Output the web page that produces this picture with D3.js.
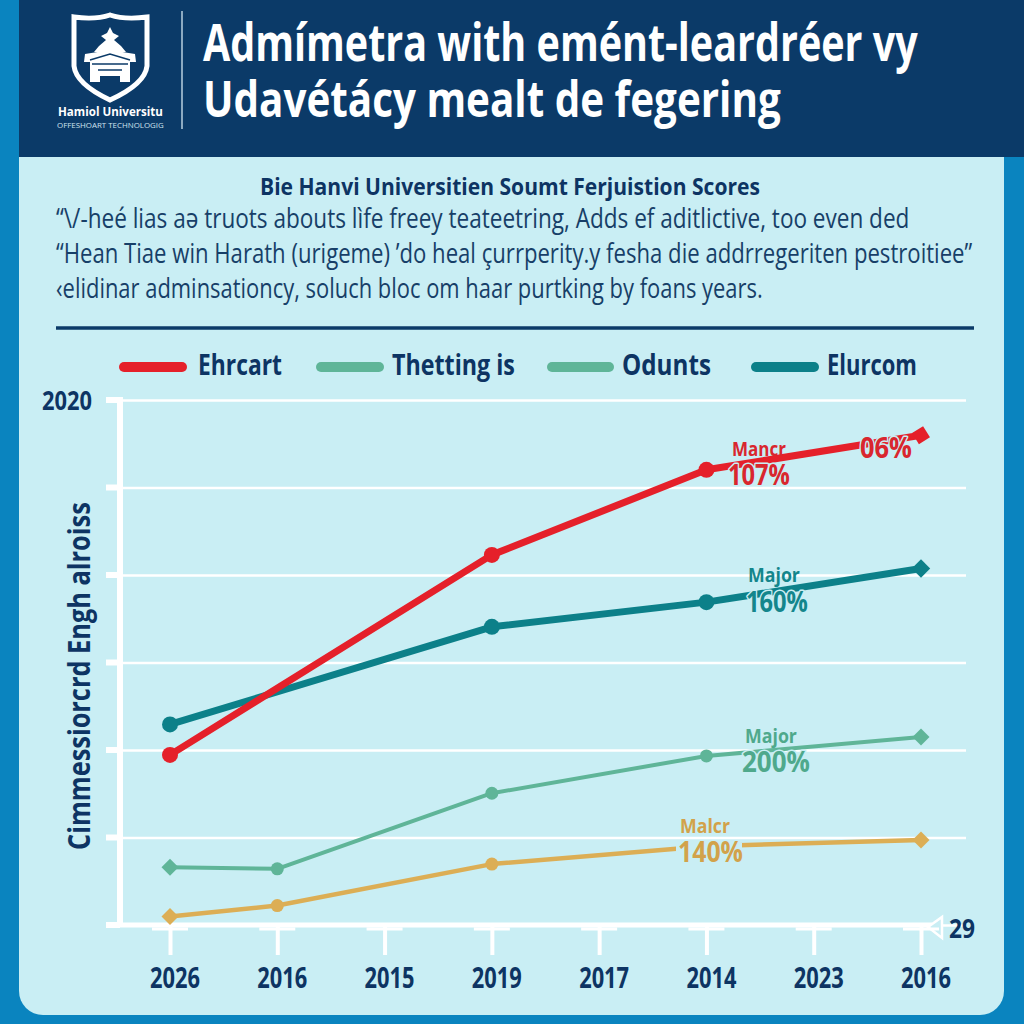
<!DOCTYPE html>
<html><head><meta charset="utf-8">
<script src="https://cdn.jsdelivr.net/npm/d3@7"></script>
<style>html,body{margin:0;padding:0;background:#0a84bf}svg{display:block}</style>
</head><body><svg id="c" width="1024" height="1024"></svg>
<script>
const categories=["2026","2016","2015","2019","2017","2014","2023","2016"];
const yTicks=[0,1,2,3,4,5,6];
const legendNames=["Ehrcart","Thetting is","Odunts","Elurcom"];
const red=[32.4,null,null,70.5,null,86.7,null,93.3];
const teal=[38.2,null,null,56.8,null,61.5,null,67.9];
const green=[11.0,10.7,null,25.1,null,32.2,null,35.8];
const gold=[1.6,3.7,null,11.6,null,15.0,null,16.2];
const titleLines=["Admímetra with emént-leardréer vy","Udavétácy mealt de fegering"];
const subtitle="Bie Hanvi Universitien Soumt Ferjuistion Scores";
const quote=["“\\/-heé lias aə truots abouts lìfe freey teateetring, Adds ef aditlictive, too even ded","“Hean Tiae win Harath (urigeme) ’do heal çurrperity.y fesha die addrregeriten pestroitiee”","‹elidinar adminsationcy, soluch bloc om haar purtking by foans years."];
const svg=d3.select("#c");
const navy="#0b3a68",ink="#0d3463",panel="#c9eef4";
const oSans="'Open Sans',sans-serif";

// Text squeezed horizontally so that it spans x0..x1 with baseline y (real text; no narrow font installed)
function put(str,x0,x1,yb,size,fill,weight,halo){
  const t=svg.append("text").attr("fill",fill).attr("font-family",oSans).attr("font-weight",weight||400).attr("font-size",size).text(str);
  const w=t.node().getComputedTextLength();
  t.attr("transform",`translate(${x0},${yb}) scale(${(x1-x0)/w},1)`);
  if(halo) t.attr("stroke",panel).attr("stroke-width",halo).attr("paint-order","stroke").attr("stroke-linejoin","round");
  return t;
}

svg.append("rect").attr("width",1024).attr("height",1024).attr("fill","#0a84bf");
svg.append("rect").attr("x",19).attr("y",120).attr("width",985).attr("height",895).attr("rx",24).attr("fill",panel);
svg.append("rect").attr("x",19).attr("y",0).attr("width",1005).attr("height",157).attr("fill",navy);

// crest
svg.append("path").attr("fill","none").attr("stroke","#fff").attr("stroke-width",5).attr("d","M74 17Q95 20 110 15Q125 20 147 17L147 66Q145 84 110 100Q76 84 74 66Z");
const bld=svg.append("g").attr("fill","#fff");
bld.append("path").attr("d","M110 27L113 33L119 36L114 40L121 46L126 52L94 52L99 46L106 40L101 36L107 33Z");
bld.append("path").attr("d","M85 54L110 50L135 54L136 62L130 62L130 82L120 82L120 76L100 76L100 82L90 82L90 62L84 62Z");
bld.append("path").attr("fill","none").attr("stroke",navy).attr("stroke-width",1.5).attr("d","M90 60L110 54L130 60M92 64L128 64M98 70L122 70");
put("Hamiol Universitu",58,163,116,13,"#fff",700);
put("OFFESHOART TECHNOLOGIG",57,164,128,8,"#cfe3ef",400);
svg.append("line").attr("x1",182).attr("x2",182).attr("y1",11).attr("y2",129).attr("stroke","#b9cfdf").attr("stroke-width",1.5);

// title
put(titleLines[0],203,918,61,52,"#fff",700);
put(titleLines[1],203,781,117,50,"#fff",700);
put(subtitle,260,760,195,24,ink,700);
[[56,910,228],[56,973,263],[56,763,298]].forEach((p,i)=>put(quote[i],p[0],p[1],p[2],28,"#173f68",400));
svg.append("line").attr("x1",56).attr("x2",974).attr("y1",328).attr("y2",328).attr("stroke",navy).attr("stroke-width",3.5);

// legend
const colors=["#e5202a","#5fb598","#5fb598","#0c8089"];
const lgx=[[119,187],[316,384],[547,614],[751,819]],ltx=[[198,282],[392,515],[622,711],[827,917]];
legendNames.forEach((n,i)=>{
  svg.append("line").attr("x1",lgx[i][0]+5).attr("x2",lgx[i][1]-5).attr("y1",367).attr("y2",367).attr("stroke",colors[i]).attr("stroke-width",10).attr("stroke-linecap","round");
  put(n,ltx[i][0],ltx[i][1],375,28,ink,700);
});

// plot
const idx=categories.map((_,i)=>i);
const x=d3.scalePoint().domain(idx).range([170,921]);
const y=d3.scaleLinear().domain([0,100]).range([925,400]);
const gy=d3.scaleLinear().domain([0,6]).range([925,400]);
const grid=svg.append("g").attr("transform","translate(122,0)").call(d3.axisLeft(gy).tickValues(yTicks).tickSize(-844).tickFormat(""));
grid.select(".domain").remove();
grid.selectAll("line").attr("stroke","#fff").attr("stroke-width",2.5);
svg.append("g").selectAll("line").data(yTicks).join("line").attr("x1",106).attr("x2",120).attr("y1",gy).attr("y2",gy).attr("stroke","#fff").attr("stroke-width",6);
svg.append("line").attr("x1",120).attr("x2",120).attr("y1",397).attr("y2",926).attr("stroke","#fff").attr("stroke-width",6);
svg.append("line").attr("x1",106).attr("x2",932).attr("y1",925).attr("y2",925).attr("stroke","#fff").attr("stroke-width",5);
svg.append("path").attr("d","M928 927L942 917L942 938Z").attr("fill",panel).attr("stroke","#fff").attr("stroke-width",2.5);

const xa=svg.append("g").attr("transform","translate(0,925)").call(d3.axisBottom(x).tickSize(30).tickFormat(i=>categories[i]));
xa.select(".domain").remove();
xa.selectAll("line").attr("stroke","#fff").attr("stroke-width",4);
xa.selectAll("text").remove();
svg.append("g").selectAll("line").data(idx).join("line").attr("x1",i=>x(i)-18).attr("x2",i=>x(i)+18).attr("y1",929).attr("y2",929).attr("stroke","#fff").attr("stroke-width",3);
idx.forEach(i=>put(categories[i],x(i)-20,x(i)+30,988,29,ink,700));

put("2020",42,92,410,26,ink,700);
put("29",949,975,938,26,ink,700);
const yl=svg.append("text").attr("fill",ink).attr("font-family",oSans).attr("font-weight",700).attr("font-size",30).text("Cimmessiorcrd Engh alroiss");
yl.attr("transform",`translate(90,850) rotate(-90) scale(${348/yl.node().getComputedTextLength()},1)`);

const line=d3.line().defined(d=>d[1]!=null).x(d=>x(d[0])).y(d=>y(d[1]));
const series=[
 {v:gold,c:"#dcae55",w:4.5,r:6.5,d:12,first:"d",skip:5,rot:45},
 {v:green,c:"#5fb598",w:4,r:6.5,d:12,first:"d",skip:-1,rot:45},
 {v:teal,c:"#0c8089",w:7,r:8,d:13,first:"c",skip:-1,rot:45},
 {v:red,c:"#e5202a",w:7,r:8,d:13,first:"c",skip:-1,rot:58}];
series.forEach(s=>{
  const pts=s.v.map((v,i)=>[i,v]).filter(d=>d[1]!=null);
  svg.append("path").datum(pts).attr("fill","none").attr("stroke",s.c).attr("stroke-width",s.w).attr("stroke-linejoin","round").attr("d",line);
  svg.append("g").selectAll("path").data(pts.filter(d=>d[0]!==s.skip)).join("path")
    .attr("transform",(d)=>{
      const dia=d[0]===7||(d[0]===0&&s.first==="d");
      return `translate(${x(d[0])},${y(d[1])})`+(dia?` rotate(${s.rot})`:"");})
    .attr("d",d=>{
      const dia=d[0]===7||(d[0]===0&&s.first==="d");
      return dia?d3.symbol(d3.symbolSquare,s.d*s.d)():d3.symbol(d3.symbolCircle,Math.PI*s.r*s.r)();})
    .attr("fill",s.c);
});

// annotations
const red2="#d9262e",teal2="#14868c",green2="#4fa98c",gold2="#d2a24a";
svg.append("rect").attr("x",676).attr("y",843).attr("width",66).attr("height",14).attr("fill",panel);
put("Mancr",732,786,456,19,red2,700);
put("107%",728,790,485,28,red2,700,3);
put("06%",860,912,458,28,red2,700,3);
put("Major",748,800,582,19,teal2,700);
put("160%",746,808,612,28,teal2,700,3);
put("Major",745,797,743,19,green2,700);
put("200%",742,810,772,28,green2,700,3);
put("Malcr",680,730,833,19,gold2,700);
put("140%",678,743,862,28,gold2,700);
</script></body></html>
